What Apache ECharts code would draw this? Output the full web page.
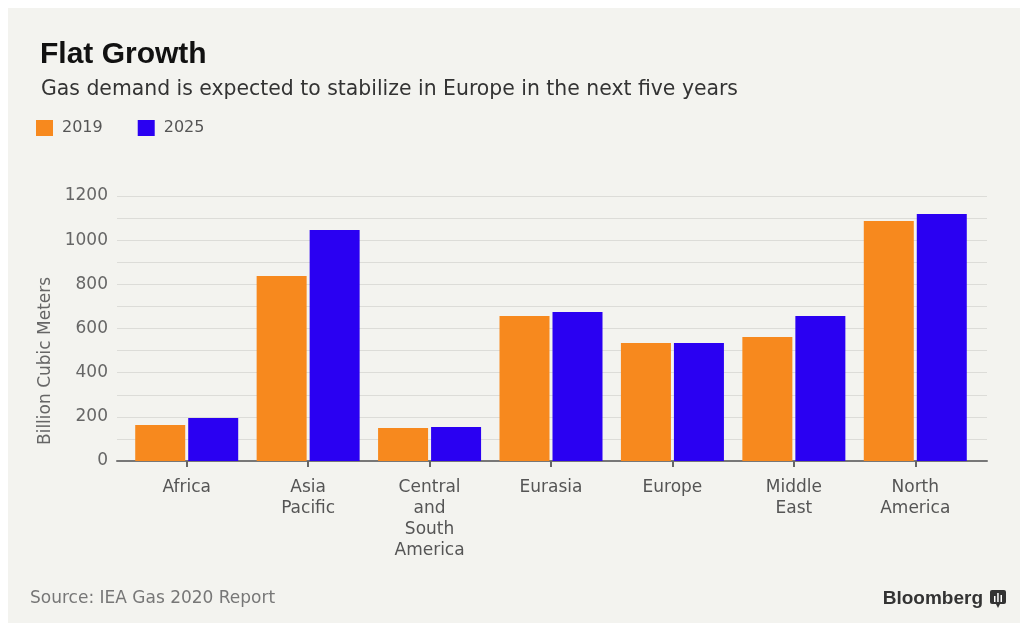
<!DOCTYPE html>
<html>
<head>
<meta charset="utf-8">
<style>
html,body{margin:0;padding:0;background:#ffffff;}
#chart{width:1025px;height:629px;}
</style>
<script src="https://cdn.jsdelivr.net/npm/echarts@6/dist/echarts.min.js"></script>
</head>
<body>
<div id="chart"></div>
<script>
const categories = ['Africa', 'Asia\nPacific', 'Central\nand\nSouth\nAmerica', 'Eurasia', 'Europe', 'Middle\nEast', 'North\nAmerica'];
const values2019 = [163, 838, 150, 657, 534, 562, 1087];
const values2025 = [195, 1046, 154, 675, 534, 657, 1119];
const seriesNames = ['2019', '2025'];
const yMin = 0, yMax = 1200, yLabelStep = 200, yGridStep = 100;

const FONT = '"DejaVu Sans", sans-serif';
const BOLD = '"Liberation Sans", Arial, sans-serif';
const chart = echarts.init(document.getElementById('chart'), null, {renderer: 'canvas'});

chart.setOption({
  backgroundColor: '#ffffff',
  textStyle: {fontFamily: FONT},
  title: [
    {text: 'Flat Growth', left: 35, top: 35, textStyle: {fontFamily: BOLD, fontSize: 30, fontWeight: 'bold', color: '#111111'}},
    {text: 'Gas demand is expected to stabilize in Europe in the next five years', left: 36, top: 75, textStyle: {fontFamily: FONT, fontSize: 20.4, fontWeight: 'normal', color: '#333333'}}
  ],
  legend: {
    left: 31, top: 115, itemWidth: 17, itemHeight: 16, itemGap: 35,
    icon: 'rect',
    textStyle: {fontFamily: FONT, fontSize: 16, color: '#555555', padding: [0, 0, 0, 4]},
    data: seriesNames
  },
  grid: [
    {left: 126, width: 850, top: 196, bottom: 168},
    {left: 117, width: 870, top: 196, bottom: 168}
  ],
  xAxis: [
    {
      type: 'category', gridIndex: 0, data: categories,
      axisLine: {show: false},
      axisTick: {show: true, alignWithLabel: true, length: 6, lineStyle: {color: '#666666', width: 2}},
      axisLabel: {fontFamily: FONT, fontSize: 17, color: '#555555', lineHeight: 21, margin: 16, interval: 0}
    },
    {
      type: 'value', gridIndex: 1, min: 0, max: 1,
      axisLine: {show: true, onZero: false, lineStyle: {color: '#777777', width: 2}},
      axisTick: {show: false}, axisLabel: {show: false}, splitLine: {show: false}
    }
  ],
  yAxis: [
    {
      type: 'value', gridIndex: 0, min: yMin, max: yMax, interval: yLabelStep,
      axisLine: {show: false}, axisTick: {show: false}, splitLine: {show: false},
      axisLabel: {fontFamily: FONT, fontSize: 17, color: '#666666', margin: 18, formatter: function (v) { return String(v); }}
    },
    {
      type: 'value', gridIndex: 1, min: yMin, max: yMax, interval: yGridStep,
      axisLine: {show: false}, axisTick: {show: false}, axisLabel: {show: false},
      splitLine: {show: true, lineStyle: {color: '#dcdcd8', width: 1}}
    }
  ],
  series: [
    {
      name: seriesNames[0], type: 'bar', xAxisIndex: 0, yAxisIndex: 0, data: values2019,
      barWidth: 50, barGap: '6%', itemStyle: {color: '#F7891E'}, z: 3
    },
    {
      name: seriesNames[1], type: 'bar', xAxisIndex: 0, yAxisIndex: 0, data: values2025,
      barWidth: 50, barGap: '6%', itemStyle: {color: '#2A00F2'}, z: 3
    }
  ],
  graphic: [
    {type: 'rect', z: -10, silent: true, shape: {x: 8, y: 8, width: 1012, height: 615}, style: {fill: '#F3F3EF'}},
    {type: 'text', x: 37, y: 445, rotation: Math.PI / 2, z: 10,
      style: {text: 'Billion Cubic Meters', fontFamily: FONT, fontSize: 17, fill: '#666666'}},
    {type: 'text', x: 30, y: 590, z: 10, style: {text: 'Source: IEA Gas 2020 Report', fontFamily: FONT, fontSize: 17, fill: '#777777'}},
    {type: 'text', x: 983, y: 589, z: 10, style: {text: 'Bloomberg', fontFamily: BOLD, fontSize: 19, fontWeight: 'bold', fill: '#333333', align: 'right'}},
    {type: 'group', x: 990, y: 590, z: 10, children: [
      {type: 'rect', shape: {x: 0, y: 0, width: 16, height: 14, r: 2}, style: {fill: '#333333'}},
      {type: 'polygon', shape: {points: [[6, 14], [10, 14], [8, 18]]}, style: {fill: '#333333'}},
      {type: 'rect', shape: {x: 4, y: 6, width: 1.5, height: 6}, style: {fill: '#ffffff'}},
      {type: 'rect', shape: {x: 7.2, y: 3, width: 1.5, height: 9}, style: {fill: '#ffffff'}},
      {type: 'rect', shape: {x: 10.5, y: 5, width: 1.5, height: 7}, style: {fill: '#ffffff'}}
    ]}
  ]
});
</script>
</body>
</html>
